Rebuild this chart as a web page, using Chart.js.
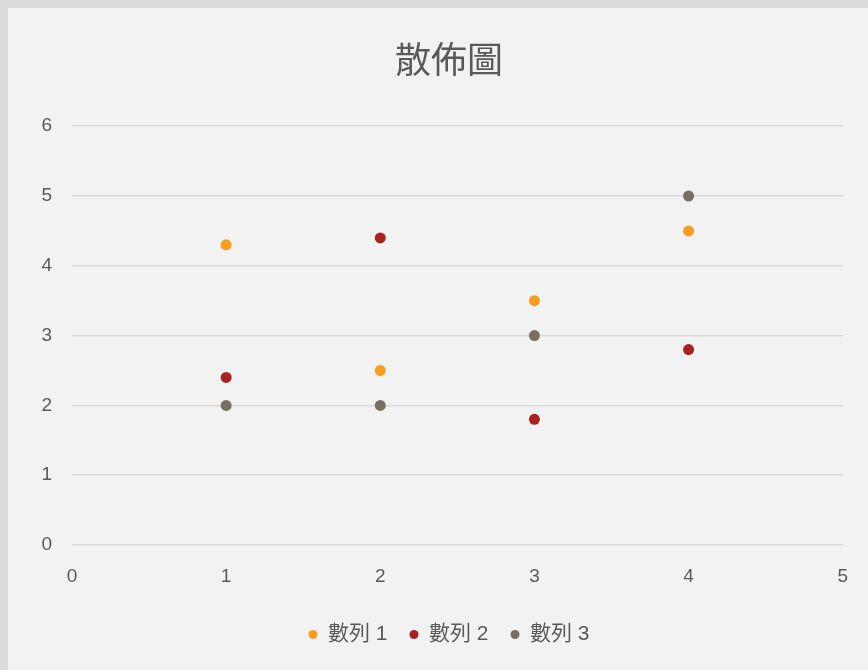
<!DOCTYPE html>
<html>
<head>
<meta charset="utf-8">
<script src="https://cdn.jsdelivr.net/npm/chart.js@4.4.0/dist/chart.umd.min.js"></script>
<style>
    html, body { margin: 0; padding: 0; background: #f2f2f2; }
    #wrap { width: 868px; height: 670px; }
</style>
</head>
<body>
<div id="wrap"><canvas id="scatter-chart" width="868" height="670"></canvas></div>
<script>
// Chart data
const seriesNames = ['數列 1', '數列 2', '數列 3'];
const xValues = [1, 2, 3, 4];
const series1 = [4.3, 2.5, 3.5, 4.5];
const series2 = [2.4, 4.4, 1.8, 2.8];
const series3 = [2, 2, 3, 5];
const seriesColors = ['#f59d1e', '#a8231f', '#786f62'];

const fontFamily = '"Liberation Sans", "Noto Sans CJK TC", sans-serif';

function toPoints(values) {
    return values.map((v, i) => ({ x: xValues[i], y: v }));
}

// Paper-like background with a darker left/top rim
const backgroundPlugin = {
    id: 'paperBackground',
    beforeDraw(chart) {
        const ctx = chart.ctx;
        ctx.save();
        ctx.fillStyle = '#dcdcdc';
        ctx.fillRect(0, 0, chart.width, chart.height);
        ctx.fillStyle = '#f2f2f2';
        ctx.fillRect(8, 8, chart.width - 8, chart.height - 8);
        ctx.restore();
    }
};

const ctx = document.getElementById('scatter-chart').getContext('2d');
const chart = new Chart(ctx, {
    type: 'scatter',
    data: {
        datasets: [series1, series2, series3].map((vals, i) => ({
            label: seriesNames[i],
            data: toPoints(vals),
            yAxisID: 'y',
            backgroundColor: seriesColors[i],
            borderColor: seriesColors[i],
            borderWidth: 0,
            pointRadius: 5.5,
            pointHoverRadius: 5.5
        }))
    },
    options: {
        responsive: false,
        animation: false,
        layout: {
            padding: { left: 30, right: 0, top: 0, bottom: 15 }
        },
        plugins: {
            title: {
                display: true,
                text: '散佈圖',
                color: '#595959',
                font: { family: fontFamily, size: 36, weight: 'normal' },
                padding: { top: 41, bottom: 42 }
            },
            legend: {
                position: 'bottom',
                labels: {
                    usePointStyle: true,
                    pointStyle: 'circle',
                    boxHeight: 6.5,
                    pointStyleWidth: 9,
                    padding: 22,
                    color: '#595959',
                    font: { family: fontFamily, size: 21 }
                }
            },
            tooltip: { enabled: false }
        },
        scales: {
            x: {
                type: 'linear',
                min: 0,
                max: 5,
                ticks: {
                    stepSize: 1,
                    padding: 20,
                    color: '#595959',
                    font: { family: fontFamily, size: 19 }
                },
                grid: { display: false, drawTicks: false },
                border: { display: false },
                afterFit(scale) { scale.height = 57; }
            },
            y: {
                min: 0,
                max: 6,
                ticks: {
                    stepSize: 1,
                    padding: 20,
                    color: '#595959',
                    font: { family: fontFamily, size: 19 }
                },
                grid: { color: '#d9d9d9', lineWidth: 1.5, drawTicks: false },
                border: { display: false },
                afterFit(scale) { scale.width = 42; }
            },
            // empty spacer on the right so the plot ends where the original does
            y2: {
                position: 'right',
                min: 0,
                max: 6,
                ticks: { display: false },
                grid: { display: false, drawTicks: false },
                border: { display: false },
                afterFit(scale) { scale.width = 25; }
            }
        }
    },
    plugins: [backgroundPlugin]
});
</script>
</body>
</html>
